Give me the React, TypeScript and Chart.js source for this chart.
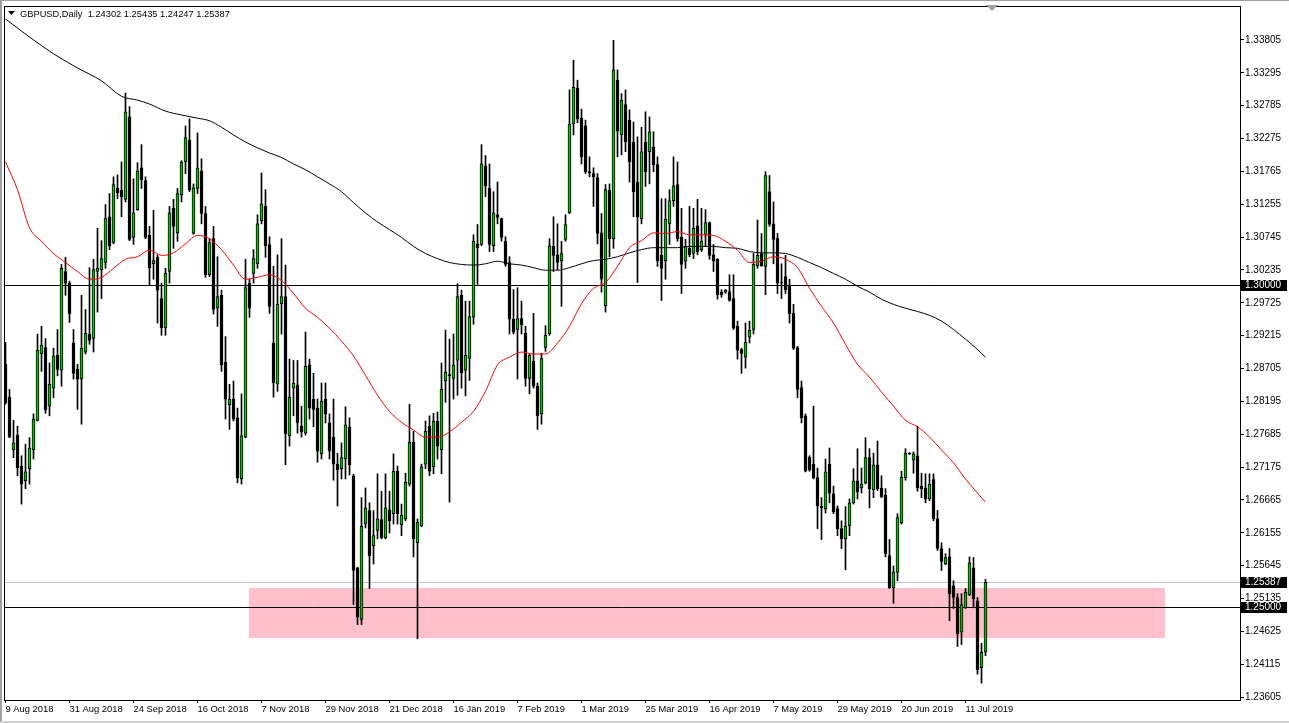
import React, { useEffect, useRef } from "react";
import { Chart, registerables } from "chart.js";

Chart.register(...registerables);

// ---- Daily GBPUSD candles (bar 0 = 9 Aug 2018) ----
const openP = [
  1.2877,1.2826,1.2744,1.2767,1.2719,1.2696,1.2715,1.2744,1.2790,1.2893,
  1.2903,1.2812,1.2840,1.2891,1.2868,1.3021,1.3003,1.2910,1.2869,1.2854,
  1.2896,1.2924,1.2917,1.3021,1.3024,1.3035,1.3106,1.3066,1.3150,1.3147,
  1.3133,1.3261,1.3074,1.3117,1.3182,1.3162,1.3077,1.3033,1.3043,1.2979,
  1.2934,1.3021,1.3119,1.3081,1.3140,1.3191,1.3225,1.3080,1.3150,1.3177,
  1.3111,1.3016,1.3072,1.2964,1.2984,1.2880,1.2814,1.2823,1.2794,1.2699,
  1.2764,1.3003,1.3018,1.3033,1.3100,1.3122,1.3063,1.2910,1.2846,1.2971,
  1.2982,1.2766,1.2840,1.2845,1.2781,1.2770,1.2876,1.2823,1.2809,1.2738,
  1.2823,1.2786,1.2764,1.2722,1.2715,1.2730,1.2780,1.2704,1.2561,1.2481,
  1.2629,1.2650,1.2595,1.2619,1.2636,1.2608,1.2651,1.2645,1.2711,1.2628,
  1.2637,1.2691,1.2756,1.2600,1.2626,1.2722,1.2781,1.2718,1.2789,1.2744,
  1.2851,1.2861,1.2855,1.2883,1.2984,1.2868,1.2886,1.2950,1.3064,1.3063,
  1.3185,1.3150,1.3061,1.3109,1.3103,1.3068,1.3035,1.2947,1.2931,1.2948,
  1.2925,1.2855,1.2882,1.2843,1.2800,1.2903,1.2924,1.3060,1.3047,1.3038,
  1.3071,1.3112,1.3250,1.3306,1.3259,1.3247,1.3176,1.3173,1.3167,1.3081,
  1.2968,1.3147,1.3072,1.3318,1.3233,1.3280,1.3256,1.3222,1.3160,1.3103,
  1.3222,1.3207,1.3214,1.3187,1.3046,1.3038,1.3095,1.3131,1.3156,1.3074,
  1.3037,1.3057,1.3049,1.3092,1.3055,1.3078,1.3097,1.3047,1.3040,1.2989,
  1.2989,1.2990,1.2979,1.2936,1.2900,1.2888,1.2919,1.2931,1.3030,1.3049,
  1.3029,1.3145,1.3095,1.3072,1.3004,1.3013,1.2998,1.2956,1.2903,1.2841,
  1.2797,1.2733,1.2722,1.2701,1.2657,1.2653,1.2722,1.2676,1.2653,1.2622,
  1.2606,1.2626,1.2662,1.2696,1.2685,1.2693,1.2732,1.2682,1.2721,1.2685,
  1.2674,1.2580,1.2530,1.2554,1.2631,1.2701,1.2739,1.2728,1.2735,1.2688,
  1.2685,1.2668,1.2698,1.2637,1.2591,1.2567,1.2578,1.2533,1.2515,1.2461,
  1.2499,1.2519,1.2561,1.2510,1.2406,1.24302,
];
const highP = [
  1.2911,1.2838,1.2790,1.2781,1.2735,1.2753,1.2763,1.2800,1.2924,1.2936,
  1.2917,1.2879,1.2902,1.2931,1.3032,1.3043,1.3006,1.2931,1.2877,1.2984,
  1.2962,1.3027,1.3040,1.3088,1.3069,1.3125,1.3142,1.3168,1.3171,1.3191,
  1.3298,1.3277,1.3165,1.3190,1.3218,1.3168,1.3091,1.3116,1.3047,1.3003,
  1.3026,1.3122,1.3133,1.3150,1.3193,1.3247,1.3258,1.3157,1.3236,1.3196,
  1.3122,1.3072,1.3091,1.3044,1.2992,1.2920,1.2846,1.2851,1.2809,1.2831,
  1.3040,1.3009,1.3055,1.3109,1.3174,1.3148,1.3075,1.3029,1.3047,1.3072,
  1.3031,1.2885,1.2883,1.2883,1.2812,1.2927,1.2885,1.2863,1.2823,1.2848,
  1.2848,1.2800,1.2823,1.2739,1.2755,1.2811,1.2794,1.2706,1.2562,1.2670,
  1.2685,1.2662,1.2650,1.2707,1.2680,1.2707,1.2680,1.2738,1.2719,1.2660,
  1.2708,1.2815,1.2773,1.2637,1.2722,1.2789,1.2797,1.2801,1.2803,1.2879,
  1.2930,1.2916,1.2924,1.3002,1.2992,1.2975,1.2975,1.3078,1.3094,1.3218,
  1.3201,1.3188,1.3145,1.3160,1.3104,1.3075,1.3044,1.2993,1.2996,1.2975,
  1.2936,1.2893,1.2956,1.2848,1.2894,1.2937,1.3072,1.3106,1.3095,1.3068,
  1.3109,1.3303,1.3349,1.3318,1.3273,1.3256,1.3199,1.3182,1.3173,1.3111,
  1.3156,1.3157,1.3380,1.3334,1.3297,1.3303,1.3272,1.3253,1.3230,1.3245,
  1.3269,1.3261,1.3238,1.3199,1.3134,1.3134,1.3148,1.3199,1.3191,1.3119,
  1.3071,1.3122,1.3119,1.3133,1.3119,1.3117,1.3098,1.3063,1.3041,1.2993,
  1.2993,1.3016,1.3016,1.2944,1.2902,1.2941,1.2944,1.3049,1.3101,1.3080,
  1.3176,1.3170,1.3129,1.3080,1.3033,1.3046,1.3009,1.2970,1.2905,1.2851,
  1.2800,1.2735,1.2812,1.2716,1.2670,1.2730,1.2747,1.2688,1.2657,1.2634,
  1.2656,1.2668,1.2715,1.2746,1.2716,1.2763,1.2746,1.2739,1.2758,1.2704,
  1.2684,1.2605,1.2564,1.2645,1.2711,1.2746,1.2740,1.2741,1.2781,1.2708,
  1.2707,1.2707,1.2707,1.2650,1.2600,1.2583,1.2591,1.2541,1.2521,1.2521,
  1.2529,1.2578,1.2577,1.2515,1.2444,1.25435,
];
const lowP = [
  1.2815,1.2763,1.2732,1.2704,1.2660,1.2684,1.2691,1.2730,1.2789,1.2866,
  1.2801,1.2797,1.2825,1.2859,1.2843,1.2984,1.2942,1.2854,1.2807,1.2784,
  1.2893,1.2908,1.2896,1.2958,1.2979,1.3026,1.3055,1.3064,1.3134,1.3106,
  1.3129,1.3069,1.3063,1.3116,1.3150,1.3072,1.2999,1.3009,1.2941,1.2922,
  1.2922,1.3003,1.3057,1.3068,1.3129,1.3173,1.3145,1.3079,1.3142,1.3095,
  1.3012,1.3013,1.2955,1.2936,1.2866,1.2792,1.2776,1.2789,1.2693,1.2691,
  1.2763,1.2950,1.3003,1.3026,1.3095,1.3043,1.2956,1.2826,1.2835,1.2924,
  1.2721,1.2750,1.2797,1.2770,1.2764,1.2767,1.2792,1.2780,1.2725,1.2730,
  1.2786,1.2730,1.2697,1.2657,1.2699,1.2699,1.2705,1.2504,1.2473,1.2473,
  1.2623,1.2529,1.2567,1.2606,1.2606,1.2606,1.2615,1.2629,1.2629,1.2611,
  1.2634,1.2688,1.2578,1.2451,1.2625,1.2715,1.2704,1.2707,1.2730,1.2707,
  1.2818,1.2663,1.2823,1.2829,1.2840,1.2828,1.2852,1.2939,1.3001,1.3061,
  1.3137,1.3052,1.3052,1.3095,1.3068,1.3029,1.2924,1.2924,1.2854,1.2924,
  1.2843,1.2831,1.2840,1.2776,1.2784,1.2897,1.2922,1.3021,1.3024,1.2967,
  1.3068,1.3111,1.3233,1.3252,1.3188,1.3173,1.3168,1.3122,1.3064,1.2989,
  1.2958,1.3044,1.3057,1.3199,1.3202,1.3207,1.3160,1.3106,1.3004,1.3095,
  1.3153,1.3157,1.3176,1.3029,1.2976,1.3009,1.3063,1.3122,1.3068,1.2987,
  1.3026,1.3044,1.3041,1.3047,1.3052,1.3060,1.3040,1.3021,1.2978,1.2981,
  1.2987,1.2975,1.2931,1.2885,1.2863,1.2871,1.2910,1.2924,1.3026,1.3029,
  1.2985,1.3091,1.3033,1.2987,1.2979,1.2987,1.2941,1.2900,1.2825,1.2786,
  1.2710,1.2711,1.2699,1.2622,1.2605,1.2646,1.2662,1.2645,1.2611,1.2591,
  1.2558,1.2611,1.2660,1.2668,1.2677,1.2691,1.2654,1.2670,1.2681,1.2670,
  1.2578,1.2529,1.2506,1.2541,1.2629,1.2697,1.2737,1.2708,1.2680,1.2670,
  1.2662,1.2665,1.2634,1.2588,1.2557,1.2566,1.2479,1.2498,1.2439,1.2442,
  1.2498,1.2518,1.2499,1.2396,1.2382,1.24247,
];
const closeP = [
  1.2817,1.2764,1.2755,1.2716,1.2691,1.2710,1.2747,1.2792,1.2899,1.2907,
  1.2806,1.2846,1.2890,1.2869,1.3026,1.3003,1.2955,1.2863,1.2854,1.2902,
  1.2925,1.2914,1.3024,1.3026,1.3041,1.3103,1.3061,1.3156,1.3143,1.3137,
  1.3269,1.3071,1.3112,1.3177,1.3163,1.3074,1.3027,1.3038,1.2992,1.2934,
  1.3018,1.3112,1.3091,1.3142,1.3191,1.3229,1.3148,1.3151,1.3182,1.3111,
  1.3016,1.3066,1.2962,1.2982,1.2876,1.2823,1.2823,1.2792,1.2701,1.2766,
  1.2996,1.2964,1.3041,1.3095,1.3126,1.3061,1.2967,1.2848,1.2970,1.2982,
  1.2769,1.2826,1.2848,1.2786,1.2772,1.2874,1.2809,1.2807,1.2742,1.2820,
  1.2800,1.2742,1.2722,1.2713,1.2732,1.2783,1.2721,1.2557,1.2485,1.2626,
  1.2654,1.2580,1.2611,1.2637,1.2608,1.2654,1.2634,1.2711,1.2645,1.2643,
  1.2694,1.2756,1.2606,1.2632,1.2718,1.2773,1.2711,1.2789,1.2750,1.2838,
  1.2865,1.2859,1.2876,1.2982,1.2864,1.2891,1.2951,1.3068,1.3058,1.3188,
  1.3154,1.3063,1.3112,1.3105,1.3074,1.3032,1.2947,1.2927,1.2948,1.2938,
  1.2855,1.2891,1.2843,1.2797,1.2886,1.2922,1.3061,1.3046,1.3035,1.3049,
  1.3094,1.3250,1.3307,1.3258,1.3199,1.3176,1.3174,1.3168,1.3080,1.3009,
  1.3148,1.3072,1.3334,1.3239,1.3287,1.3222,1.3191,1.3145,1.3106,1.3207,
  1.3176,1.3238,1.3187,1.3038,1.3026,1.3102,1.3131,1.3154,1.3072,1.3032,
  1.3060,1.3047,1.3088,1.3052,1.3068,1.3097,1.3046,1.3037,1.2985,1.2985,
  1.2992,1.2976,1.2933,1.2899,1.2894,1.2911,1.2930,1.3032,1.3046,1.3030,
  1.3170,1.3094,1.3071,1.3003,1.3003,1.2993,1.2955,1.2902,1.2838,1.2794,
  1.2711,1.2713,1.2701,1.2657,1.2654,1.2710,1.2677,1.2648,1.2622,1.2606,
  1.2626,1.2662,1.2696,1.2679,1.2691,1.2732,1.2684,1.2721,1.2684,1.2671,
  1.2583,1.2530,1.2555,1.2639,1.2702,1.2739,1.2738,1.2738,1.2685,1.2684,
  1.2668,1.2691,1.2637,1.2591,1.2571,1.2577,1.2521,1.2515,1.2459,1.2504,
  1.2523,1.2569,1.2513,1.2403,1.2430,1.25387,
];

// ---- Moving averages (read at sample bars) ----
const maFastIdx = [0,3,6,9,12,15,18,21,24,27,30,33,36,39,42,45,48,51,54,57,60,63,66,69,72,75,78,81,84,87,90,93,96,99,102,105,108,111,114,117,120,123,126,129,132,135,138,141,144,147,150,153,156,159,162,165,168,171,174,177,180,183,186,189,192,195,198,201,204,207,210,213,216,219,222,225,228,231,234,237,240,243,245];
const maFastVal = [1.3191,1.3148,1.3089,1.3068,1.3049,1.3035,1.3021,1.3009,1.3012,1.3026,1.3040,1.3044,1.3054,1.3046,1.3050,1.3064,1.3077,1.3072,1.3055,1.3031,1.3009,1.3012,1.3016,1.3007,1.2987,1.2964,1.2950,1.2933,1.2913,1.2890,1.2860,1.2829,1.2804,1.2787,1.2775,1.2764,1.2764,1.2772,1.2787,1.2804,1.2835,1.2876,1.2888,1.2896,1.2893,1.2893,1.2910,1.2936,1.2971,1.2995,1.3004,1.3029,1.3058,1.3069,1.3081,1.3080,1.3083,1.3078,1.3078,1.3077,1.3068,1.3054,1.3035,1.3037,1.3044,1.3040,1.3027,1.2995,1.2967,1.2941,1.2908,1.2877,1.2857,1.2834,1.2812,1.2790,1.2780,1.2764,1.2744,1.2724,1.2699,1.2677,1.2663];
const maSlowIdx = [0,6,12,18,24,29,33,36,40,44,48,51,54,57,60,63,66,69,72,75,78,81,84,87,90,93,96,99,102,105,108,111,114,117,120,123,126,129,132,135,138,141,144,147,150,153,156,159,162,165,168,171,174,177,180,183,186,189,192,195,198,201,204,207,210,213,216,219,222,225,228,231,234,237,240,243,245];
const maSlowVal = [1.3413,1.3385,1.3359,1.3337,1.3317,1.3293,1.3287,1.3281,1.3270,1.3264,1.3259,1.3255,1.3245,1.3233,1.3222,1.3213,1.3205,1.3198,1.3188,1.3179,1.3168,1.3157,1.3145,1.3128,1.3112,1.3098,1.3086,1.3074,1.3060,1.3049,1.3041,1.3035,1.3032,1.3031,1.3033,1.3037,1.3033,1.3031,1.3027,1.3023,1.3023,1.3027,1.3033,1.3038,1.3040,1.3044,1.3050,1.3055,1.3058,1.3058,1.3058,1.3060,1.3060,1.3060,1.3058,1.3057,1.3052,1.3050,1.3050,1.3049,1.3043,1.3035,1.3027,1.3018,1.3009,1.2998,1.2989,1.2978,1.2970,1.2964,1.2959,1.2953,1.2944,1.2931,1.2916,1.2900,1.2888];

// ---- Axis ticks ----
const dateTickIdx = [0,16,32,48,64,80,96,112,128,144,160,176,192,208,224,240];
const dateTickLabels = ["9 Aug 2018","31 Aug 2018","24 Sep 2018","16 Oct 2018","7 Nov 2018","29 Nov 2018","21 Dec 2018","16 Jan 2019","7 Feb 2019","1 Mar 2019","25 Mar 2019","16 Apr 2019","7 May 2019","29 May 2019","20 Jun 2019","11 Jul 2019"];
const priceTicks = [1.33805,1.33295,1.32785,1.32275,1.31765,1.31255,1.30745,1.30235,1.29725,1.29215,1.28705,1.28195,1.27685,1.27175,1.26665,1.26155,1.25645,1.25135,1.24625,1.24115,1.23605];

// ---- Annotations ----
const levelLines = [1.3, 1.25];
const lastPrice = 1.25387;
const zonePrices = [1.24514, 1.25303];
const zoneBars = [60.8, 289.8];
const symbolTitle = "GBPUSD,Daily  1.24302 1.25435 1.24247 1.25387";

const BULL = "#00c800";
const FONT = '"Liberation Sans", Arial, sans-serif';

export default function App() {
  const ref = useRef<HTMLCanvasElement | null>(null);
  useEffect(() => {
    const canvas = ref.current;
    if (!canvas) return;
    const idx = openP.map((_, i) => i);
    const wickData = idx.map((i) => ({ x: i, y: [lowP[i], highP[i]] }));
    const bodyData = idx.map((i) => ({ x: i, y: [openP[i], closeP[i]] }));
    const bodyColors = idx.map((i) => (closeP[i] > openP[i] ? BULL : "#000000"));
    const fast = maFastIdx.map((k, j) => ({ x: k, y: maFastVal[j] }));
    const slow = maSlowIdx.map((k, j) => ({ x: k, y: maSlowVal[j] }));

    const overlay = {
      id: "overlay",
      beforeDatasetsDraw(chart: any) {
        const { ctx, chartArea: a, scales } = chart;
        const x = scales.x, y = scales.y;
        ctx.save();
        const x0 = x.getPixelForValue(zoneBars[0]);
        const x1 = x.getPixelForValue(zoneBars[1]);
        const y0 = Math.round(y.getPixelForValue(zonePrices[1]));
        const y1 = Math.round(y.getPixelForValue(zonePrices[0]));
        ctx.fillStyle = "#ffc0cb";
        ctx.fillRect(Math.round(x0), y0, Math.round(x1 - x0), y1 - y0);
        ctx.lineWidth = 1;
        const hline = (v: number, c: string) => {
          const py = Math.floor(y.getPixelForValue(v)) + 0.5;
          ctx.strokeStyle = c;
          ctx.beginPath();
          ctx.moveTo(a.left, py);
          ctx.lineTo(a.right, py);
          ctx.stroke();
        };
        hline(lastPrice, "#c0c0c0");
        levelLines.forEach((v) => hline(v, "#000000"));
        ctx.restore();
      },
      afterDraw(chart: any) {
        const { ctx, chartArea: a, scales } = chart;
        const y = scales.y;
        ctx.save();
        ctx.strokeStyle = "#000";
        ctx.lineWidth = 1;
        ctx.strokeRect(a.left - 0.5, a.top - 0.5, a.right - a.left + 1, a.bottom - a.top + 1);
        ctx.font = `10px ${FONT}`;
        ctx.textBaseline = "middle";
        ctx.textAlign = "left";
        [lastPrice, ...levelLines].forEach((v) => {
          const py = Math.floor(y.getPixelForValue(v));
          ctx.fillStyle = "#000";
          ctx.fillRect(a.right + 1, py - 5, 46, 11);
          ctx.fillStyle = "#fff";
          ctx.fillText(v.toFixed(5), a.right + 5, py + 0.5);
        });
        ctx.fillStyle = "#000";
        ctx.beginPath();
        ctx.moveTo(8, 11);
        ctx.lineTo(15, 11);
        ctx.lineTo(11.5, 15);
        ctx.closePath();
        ctx.fill();
        ctx.font = `9.3px ${FONT}`;
        ctx.textBaseline = "alphabetic";
        ctx.fillText(symbolTitle, 20, 17);
        ctx.fillStyle = "#a0a0a0";
        ctx.beginPath();
        ctx.moveTo(986, 5);
        ctx.lineTo(998, 5);
        ctx.lineTo(992, 11);
        ctx.closePath();
        ctx.fill();
        ctx.fillStyle = "#a0a0a0";
        ctx.fillRect(0, 0, 2, 723);
        ctx.fillRect(0, 0, 1289, 1);
        ctx.fillStyle = "#d0d0d0";
        ctx.fillRect(0, 721, 1289, 2);
        ctx.restore();
      },
    };

    const chart = new Chart(canvas, {
      type: "bar",
      data: {
        datasets: [
          { type: "line", data: fast, borderColor: "#ff0000", borderWidth: 1, pointRadius: 0, order: 0, cubicInterpolationMode: "monotone" } as any,
          { type: "line", data: slow, borderColor: "#000000", borderWidth: 1, pointRadius: 0, order: 0, cubicInterpolationMode: "monotone" } as any,
          { type: "bar", data: bodyData, backgroundColor: bodyColors, borderColor: "#000000", borderWidth: 1, borderSkipped: false, barThickness: 3, grouped: false, order: 1 } as any,
          { type: "bar", data: wickData, backgroundColor: "#000000", borderWidth: 0, barThickness: 1, grouped: false, order: 2 } as any,
        ],
      },
      options: {
        responsive: false,
        animation: false,
        devicePixelRatio: 1,
        events: [],
        layout: { padding: { left: 5, top: 5, right: 0, bottom: 0 } },
        plugins: { legend: { display: false }, tooltip: { enabled: false }, title: { display: false } },
        scales: {
          x: {
            type: "linear",
            min: -0.125,
            max: 308.625,
            offset: false,
            bounds: "ticks",
            position: "bottom",
            afterFit: (s: any) => { s.height = 23; },
            afterBuildTicks: (s: any) => { s.ticks = dateTickIdx.map((v) => ({ value: v })); },
            grid: { display: true, offset: false, drawOnChartArea: false, drawTicks: true, tickLength: 3, color: "#000" },
            border: { display: false },
            ticks: {
              autoSkip: false, maxRotation: 0, minRotation: 0, align: "start", padding: 1, color: "#000",
              font: { family: FONT, size: 9.4 },
              callback: (v: any) => { const j = dateTickIdx.indexOf(Number(v)); return j >= 0 ? dateTickLabels[j] : ""; },
            },
          },
          y: {
            type: "linear",
            position: "right",
            min: 1.23559,
            max: 1.34316,
            afterFit: (s: any) => { s.width = 49; },
            afterBuildTicks: (s: any) => { s.ticks = priceTicks.map((v) => ({ value: v })); },
            grid: { display: true, drawOnChartArea: false, drawTicks: true, tickLength: 4, color: "#000" },
            border: { display: false },
            ticks: { padding: 1, color: "#000", font: { family: FONT, size: 10 }, callback: (v: any) => Number(v).toFixed(5) },
          },
        },
      } as any,
      plugins: [overlay],
    });
    return () => chart.destroy();
  }, []);

  return (
    <div style={{ position: "fixed", left: 0, top: 0, width: 1289, height: 723, background: "#fff" }}>
      <canvas ref={ref} width={1289} height={723} style={{ display: "block" }} />
    </div>
  );
}
